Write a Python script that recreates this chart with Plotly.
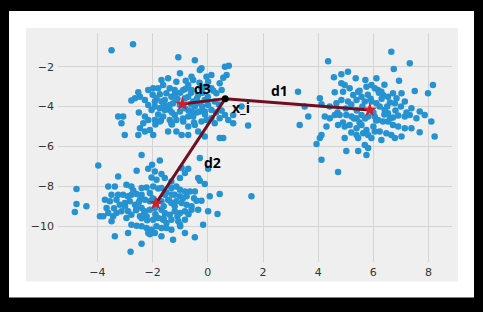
import plotly.graph_objects as go

# ---------------- data ----------------
cluster_a_x = [-3.49, -2.71, -1.07, -0.47, -0.23, -0.29, 0.62, 0.76, 0.68, 0.56, -0.05, 0.13, 0.01,
               -0.59, -0.53, -1.01, -1.14, -0.71, -0.89, -0.59, -0.23, -0.11, 0.13, 0.43, 0.5, 0.31,
               -1.44, -1.68, -1.62, -1.8, -1.38, -1.2, -1.5, -1.74, -1.98, -2.16, -2.52, -2.46, -2.77,
               -2.64, -2.28, -2.16, -1.86, -1.92, -1.68, -1.56, -1.32, -1.26, -1.14, -1.01, -0.83, -0.71,
               -0.53, -0.47, -0.29, -0.11, 0.01, 0.25, 0.13, -0.11, -0.29, -0.59, -0.71, -0.53, -1.01,
               -1.2, -1.38, -1.56, -1.74, -1.92, -2.04, -2.28, -2.16, -2.34, -2.46, -2.28, -2.1, -1.92,
               -1.74, -1.62, -1.38, -1.32, -1.14, -0.89, -0.71, -0.47, -0.23, -0.05, 0.13, 0.25, 0.43,
               0.62, 0.74, 0.92, 1.22, 1.46, 0.92, -1.14, -1.44, -0.95, -0.71, -0.35, -0.11, 0.43, 0.56,
               -3.07, -3.25, -3.13, -3.01, -2.52, -1.98, -0.83, -0.35, -1.38,
               -1.1, -0.7, -1.3, -0.4, -0.9, -1.6, -0.2, -1.0, -0.6, 0.3, -1.8, -0.8,
               -0.2, 0.0, -0.4, -1.2, -1.5, -0.6, -0.1, 0.4, -2.0, -1.7, -0.5, -1.3, 0.2, -0.8,
               -2.5, -1.9, -0.3, 0.5]
cluster_a_y = [-1.17, -0.88, -1.53, -1.67, -2.08, -2.17, -2.0, -1.95, -2.42, -2.55, -2.5, -2.42, -2.75,
               -2.5, -2.67, -2.33, -2.75, -2.92, -3.17, -3.17, -3.08, -3.0, -3.08, -2.83, -3.17, -3.33,
               -2.58, -2.67, -2.92, -3.08, -3.08, -3.17, -3.33, -3.38, -3.08, -3.17, -3.28, -3.5, -3.7,
               -3.58, -3.67, -3.92, -3.58, -3.75, -3.75, -3.67, -3.5, -3.83, -3.67, -3.92, -3.58, -3.5,
               -3.75, -4.0, -3.83, -3.67, -3.92, -3.75, -4.17, -4.25, -4.25, -4.25, -4.5, -4.5, -4.25,
               -4.42, -4.17, -4.17, -4.08, -4.0, -4.17, -4.5, -4.67, -4.83, -5.08, -5.25, -5.17, -4.67,
               -4.75, -4.5, -4.67, -4.83, -4.67, -4.75, -5.0, -4.92, -4.75, -4.67, -4.58, -4.83, -4.58,
               -4.42, -4.67, -4.83, -4.0, -4.95, -4.42, -5.25, -5.25, -5.42, -5.42, -5.25, -5.5, -5.58, -5.58,
               -4.5, -4.5, -4.83, -5.42, -5.42, -5.42, -4.08, -3.42, -3.92,
               -3.6, -4.2, -4.3, -3.6, -4.6, -3.9, -4.0, -3.3, -3.9, -4.3, -4.4, -2.7,
               -3.3, -3.5, -4.3, -3.4, -4.0, -3.3, -4.4, -3.9, -3.4, -4.7, -4.8, -4.9, -3.2, -3.1,
               -4.3, -4.9, -2.8, -4.2]

cluster_b_x = [-2.4, -1.74, -3.97, -0.29, 0.01, -2.58, -3.25, -2.16, -2.02, -1.92, -1.68, -0.95, -0.71,
               -0.83, -2.04, -1.86, -1.56, -1.32, -1.01, -0.35, -0.29, -0.11, -3.61, -3.37, -2.95, -2.77,
               -2.4, -2.22, -1.98, -1.68, -1.32, -1.14, -1.01, -0.83, -0.65, -0.47, -4.76, -3.49, -3.25,
               -3.07, -2.77, -2.58, -2.4, -2.1, -1.56, -1.2, -1.01, -0.77, -0.41, -0.23, 0.07, 0.43, 1.58,
               -3.73, -3.55, -3.31, -3.19, -3.01, -2.83, -2.64, -2.46, -2.28, -2.1, -1.68, -1.44, -1.32,
               -1.14, -0.95, -0.77, -0.59, -4.76, -4.4, -4.82, -3.91, -3.67, -3.61, -3.43, -3.31, -3.13,
               -2.89, -2.58, -2.4, -2.28, -2.1, -1.92, -1.68, -1.56, -1.38, -1.2, -1.01, -0.83, -0.59,
               -0.35, 0.01, 0.35, -3.79, -3.49, -2.95, -2.77, -2.46, -2.22, -1.98, -1.8, -1.62, -1.5,
               -1.32, -1.07, -0.83, -0.17, -2.77, -2.58, -2.4, -2.22, -2.04, -1.86, -1.68, -1.5, -1.32,
               -1.01, -2.16, -1.92, -1.68, -3.37, -2.89, -1.26, -0.83, -0.47, -2.4, -2.8,
               -2.0, -1.6, -2.3, -1.2, -1.9, -2.5, -1.5, -2.2,
               -1.4, -2.6, -1.1, -2.9, -1.8, -0.9, -2.4, -1.6, -3.0, -0.7, -2.1, -1.3, -2.7, -1.0,
               -3.4, -0.5]
cluster_b_y = [-6.42, -6.7, -6.95, -6.58, -7.12, -7.22, -7.5, -7.12, -6.92, -7.25, -7.38, -7.08, -7.12,
               -7.33, -7.55, -7.67, -7.58, -7.75, -7.58, -7.58, -7.72, -7.88, -8.0, -8.0, -7.92, -8.0,
               -8.08, -8.05, -8.0, -8.08, -8.08, -8.0, -8.17, -8.25, -8.25, -8.25, -8.13, -8.42, -8.42,
               -8.42, -8.42, -8.38, -8.42, -8.33, -8.42, -8.42, -8.5, -8.5, -8.72, -8.72, -8.5, -8.38, -8.5,
               -8.67, -8.75, -8.67, -8.92, -8.83, -8.75, -8.92, -8.67, -8.67, -8.75, -8.75, -8.67, -8.83,
               -8.75, -8.83, -8.92, -9.0, -8.88, -9.0, -9.28, -9.5, -9.08, -9.33, -9.5, -9.33, -9.25,
               -9.25, -9.08, -9.08, -9.25, -9.17, -9.08, -9.17, -9.33, -9.42, -9.25, -9.33, -9.25, -9.17,
               -9.17, -9.25, -9.38, -9.5, -9.75, -9.58, -9.42, -9.5, -9.5, -9.67, -9.58, -9.67, -9.83,
               -9.67, -9.75, -9.67, -9.92, -9.92, -9.97, -10.0, -10.08, -10.17, -10.0, -10.08, -10.08, -10.17,
               -9.92, -10.33, -10.33, -10.5, -10.5, -10.33, -10.67, -10.33, -10.55, -10.88, -11.28,
               -8.6, -9.0, -9.3, -9.0, -9.4, -8.8, -8.3, -9.7,
               -8.7, -9.2, -9.5, -8.5, -8.1, -8.6, -9.6, -9.6, -9.0, -9.4, -10.4, -8.4, -8.2, -10.0,
               -9.1, -8.6]

cluster_c_x = [6.65, 4.36, 7.32, 6.74, 5.08, 4.84, 4.57, 5.36, 5.71, 6.11, 6.93, 8.16, 7.5, 7.98, 3.27,
               4.06, 4.12, 4.6, 4.84, 4.96, 5.14, 4.9, 5.27, 5.45, 5.57, 5.75, 5.93, 6.05, 6.17, 6.29,
               6.35, 6.53, 6.71, 6.84, 7.02, 7.14, 6.78, 7.38, 7.68, 7.86, 8.1, 7.32, 7.14, 6.9, 6.71,
               6.53, 6.41, 6.23, 6.11, 5.93, 5.69, 5.39, 5.08, 4.84, 4.66, 4.42, 3.51, 3.64, 3.33, 4.24,
               4.42, 4.6, 4.78, 5.02, 5.21, 5.39, 5.57, 5.81, 6.05, 6.17, 6.35, 6.53, 6.71, 6.9, 7.14,
               7.38, 7.56, 4.72, 4.96, 5.14, 5.39, 5.57, 5.75, 6.05, 6.23, 6.47, 6.65, 7.02, 4.12, 4.06,
               4.3, 4.96, 5.39, 5.45, 5.63, 5.81, 5.93, 6.29, 6.78, 7.68, 8.22, 5.69, 5.81, 5.02, 5.45,
               5.75, 4.12, 4.72, 3.94,
               5.6, 6.0, 6.3, 5.4, 6.5, 5.8, 6.1, 5.2, 6.6, 5.5,
               5.9, 6.4, 5.3, 6.8, 5.0, 6.2, 5.7, 7.0, 4.7, 6.0, 5.5, 6.6, 4.9, 7.2, 5.2, 6.4]
cluster_c_y = [-1.25, -1.72, -1.83, -2.12, -2.25, -2.38, -2.53, -2.58, -2.67, -2.58, -2.7, -2.92, -3.22,
               -3.33, -3.25, -3.58, -3.88, -3.28, -2.83, -2.92, -3.08, -3.25, -3.42, -3.25, -3.5, -3.0,
               -2.92, -3.08, -3.17, -3.25, -3.42, -3.5, -3.33, -3.58, -3.33, -3.75, -3.83, -4.08, -4.25,
               -4.42, -4.75, -4.42, -4.5, -4.45, -4.55, -4.33, -4.17, -4.0, -3.83, -3.75, -3.75, -3.67,
               -3.75, -3.67, -3.83, -4.0, -4.0, -4.5, -4.92, -4.5, -4.58, -4.42, -4.42, -4.42, -4.5,
               -4.58, -4.42, -4.5, -4.5, -4.67, -4.75, -4.75, -4.92, -5.0, -5.08, -5.08, -4.58, -4.92,
               -5.0, -4.92, -5.08, -4.92, -5.17, -5.25, -5.25, -5.33, -5.42, -5.5, -5.42, -5.58, -5.0,
               -5.58, -5.42, -5.58, -5.33, -5.42, -5.58, -5.67, -5.58, -5.28, -5.5, -5.92, -6.08, -6.22,
               -6.22, -6.42, -6.67, -7.28, -5.88,
               -4.0, -4.3, -3.6, -4.2, -4.0, -3.4, -4.7, -3.9, -3.8, -4.8,
               -3.6, -4.4, -4.6, -4.2, -4.1, -3.3, -4.6, -4.0, -4.3, -5.0, -3.2, -4.6, -4.8, -4.3, -5.3, -2.9]

centroid_x = [5.87, -1.88, -0.92]
centroid_y = [-4.17, -8.85, -3.87]
point_x = [0.63]
point_y = [-3.6]
distance_labels = ["d1", "d2", "d3"]
label_x = [2.58, 0.17, -0.2]
label_y = [-3.17, -6.78, -3.08]
point_label = "x_i"
x_range = [-5.43, 8.85]
y_range = [-11.79, -0.31]
x_ticks = [-4, -2, 0, 2, 4, 6, 8]
y_ticks = [-2, -4, -6, -8, -10]

# ---------------- figure ----------------
W, H = 483, 312
ML, MR, MT, MB = 58, 31, 33, 49.5
pw, ph = W - ML - MR, H - MT - MB


def px_x(p):
    return (p - ML) / pw


def px_y(p):
    return (H - MB - p) / ph


fig = go.Figure()

blue = "#2592d2"
for cx, cy in [(cluster_a_x, cluster_a_y), (cluster_b_x, cluster_b_y), (cluster_c_x, cluster_c_y)]:
    fig.add_trace(go.Scatter(x=cx, y=cy, mode="markers",
                             marker=dict(color=blue, size=6.5, line=dict(width=0)),
                             hoverinfo="skip", showlegend=False))

for k in range(len(centroid_x)):
    fig.add_trace(go.Scatter(x=[point_x[0], centroid_x[k]], y=[point_y[0], centroid_y[k]],
                             mode="lines", line=dict(color="#6e0f22", width=3),
                             hoverinfo="skip", showlegend=False))

fig.add_trace(go.Scatter(x=centroid_x, y=centroid_y, mode="markers",
                         marker=dict(symbol="star", color="#d0202f", size=11, line=dict(width=0)),
                         showlegend=False))
fig.add_trace(go.Scatter(x=point_x, y=point_y, mode="markers",
                         marker=dict(color="black", size=7, line=dict(width=0)),
                         showlegend=False))

for t, x, y in zip(distance_labels, label_x, label_y):
    fig.add_annotation(x=x, y=y, text="<b>%s</b>" % t, showarrow=False,
                       font=dict(family="Open Sans", size=14, color="black"))
fig.add_annotation(x=1.2, y=-4.03, text="<b>%s</b>" % point_label, showarrow=False,
                   font=dict(family="Open Sans", size=14, color="black"))

shapes = [
    dict(type="rect", xref="paper", yref="paper", layer="below",
         x0=px_x(9), x1=px_x(474), y0=px_y(298), y1=px_y(11),
         fillcolor="white", line=dict(width=0)),
    dict(type="rect", xref="paper", yref="paper", layer="below",
         x0=px_x(26), x1=px_x(458), y0=px_y(282), y1=px_y(28),
         fillcolor="#efefef", line=dict(width=0)),
]

fig.update_layout(
    width=W, height=H,
    margin=dict(l=ML, r=MR, t=MT, b=MB, pad=0),
    paper_bgcolor="black", plot_bgcolor="#efefef",
    shapes=shapes,
    font=dict(family="DejaVu Sans", size=11, color="#333333"),
    xaxis=dict(range=x_range, tickvals=x_ticks, showgrid=True, gridcolor="#d4d4d4",
               gridwidth=1, zeroline=False, showline=False, ticks="",
               ticklabelstandoff=2),
    yaxis=dict(range=y_range, tickvals=y_ticks, showgrid=True, gridcolor="#d4d4d4",
               gridwidth=1, zeroline=False, showline=False, ticks="",
               ticklabelstandoff=3),
)

fig.write_html("out.html")
